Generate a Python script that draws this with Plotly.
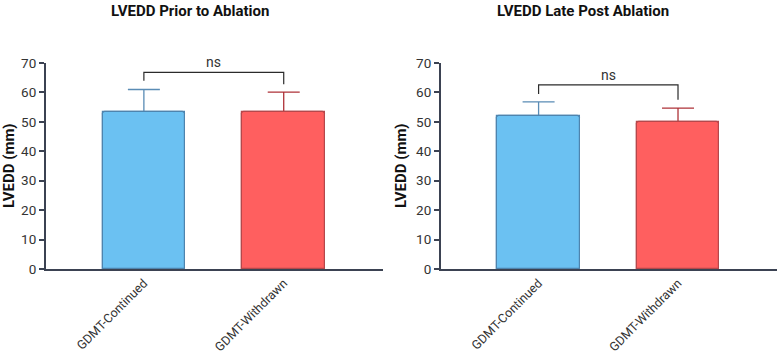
import plotly.graph_objects as go

categories = ["GDMT-Continued", "GDMT-Withdrawn"]
titles = ["LVEDD Prior to Ablation", "LVEDD Late Post Ablation"]
prior_means = [53.5, 53.3]
prior_sd = [7.5, 6.8]
late_means = [51.9, 49.9]
late_sd = [4.9, 4.8]
sig_label = "ns"
prior_bracket = [64.0, 66.8, 62.8]   # left drop, top, right drop
late_bracket = [59.5, 62.6, 57.5]
y_ticks = [0, 10, 20, 30, 40, 50, 60, 70]

fills = ["#6BC1F2", "#FF5F5F"]
borders = ["#4E84AE", "#B5484B"]
err_colors = ["#5A8CB5", "#AE3238"]
axis_col = "#3B4252"
font_fam = "Roboto, Arial, sans-serif"

fig = go.Figure()

panels = [
    (prior_means, prior_sd, prior_bracket, "x", "y"),
    (late_means, late_sd, late_bracket, "x2", "y2"),
]
for means, sds, br, xa, ya in panels:
    # error bars (lower half hidden under the bars drawn afterwards)
    for i in range(2):
        fig.add_trace(go.Bar(
            x=[i], y=[means[i]], xaxis=xa, yaxis=ya, width=0.59,
            marker=dict(color=fills[i], line=dict(color=borders[i], width=1.2)),
            error_y=dict(type="data", array=[sds[i]], color=err_colors[i],
                         thickness=1.3, width=16),
            showlegend=False, hoverinfo="skip",
        ))
    for i in range(2):
        fig.add_trace(go.Bar(
            x=[i], y=[means[i]], xaxis=xa, yaxis=ya, width=0.59,
            marker=dict(color=fills[i], line=dict(color=borders[i], width=1.2),
                        cornerradius=3),
            showlegend=False, hoverinfo="skip",
        ))
    fig.add_shape(type="path", xref=xa, yref=ya,
                  path=f"M 0 {br[0]} L 0 {br[1]} L 1 {br[1]} L 1 {br[2]}",
                  line=dict(color="#2b2b2b", width=1.2))
    fig.add_annotation(x=0.5, y=br[1], xref=xa, yref=ya, text=sig_label,
                       showarrow=False, yanchor="bottom", yshift=0,
                       font=dict(family=font_fam, size=14, color="#333333"))

common_x = dict(tickmode="array", tickvals=[0, 1], ticktext=categories, tickangle=-45,
                showline=True, linecolor=axis_col, linewidth=2, ticks="",
                showgrid=False, zeroline=False, range=[-0.70, 1.71], automargin=False,
                tickfont=dict(family=font_fam, size=12.5, color="#333333"))
common_y = dict(range=[0, 70], tickvals=y_ticks, showline=True, linecolor=axis_col, linewidth=2,
                ticks="outside", ticklen=5, tickcolor=axis_col, tickwidth=1.5,
                showgrid=False, zeroline=False, automargin=False,
                tickfont=dict(family=font_fam, size=13.5, color="#333333"))

fig.update_layout(
    width=778, height=354, margin=dict(l=0, r=0, t=0, b=0),
    plot_bgcolor="white", paper_bgcolor="white", bargap=0, barmode="overlay",
    xaxis=dict(domain=[46/778, 383/778], anchor="y", **common_x),
    xaxis2=dict(domain=[441/778, 777/778], anchor="y2", **common_x),
    yaxis=dict(domain=[1-269/354, 1-63/354], anchor="x", **common_y),
    yaxis2=dict(domain=[1-269/354, 1-63/354], anchor="x2", **common_y),
)

for tx, cx in zip(titles, [190/778, 583/778]):
    fig.add_annotation(x=cx, y=1, xref="paper", yref="paper", text=f"<b>{tx}</b>",
                       showarrow=False, xanchor="center", yanchor="top",
                       font=dict(family=font_fam, size=15, color="#111111"))
for lx in [9/778, 401/778]:
    fig.add_annotation(x=lx, y=1-166/354, xref="paper", yref="paper", text="<b>LVEDD (mm)</b>",
                       showarrow=False, textangle=-90, xanchor="center", yanchor="middle",
                       font=dict(family=font_fam, size=15, color="#111111"))

fig.write_html("out.html")
